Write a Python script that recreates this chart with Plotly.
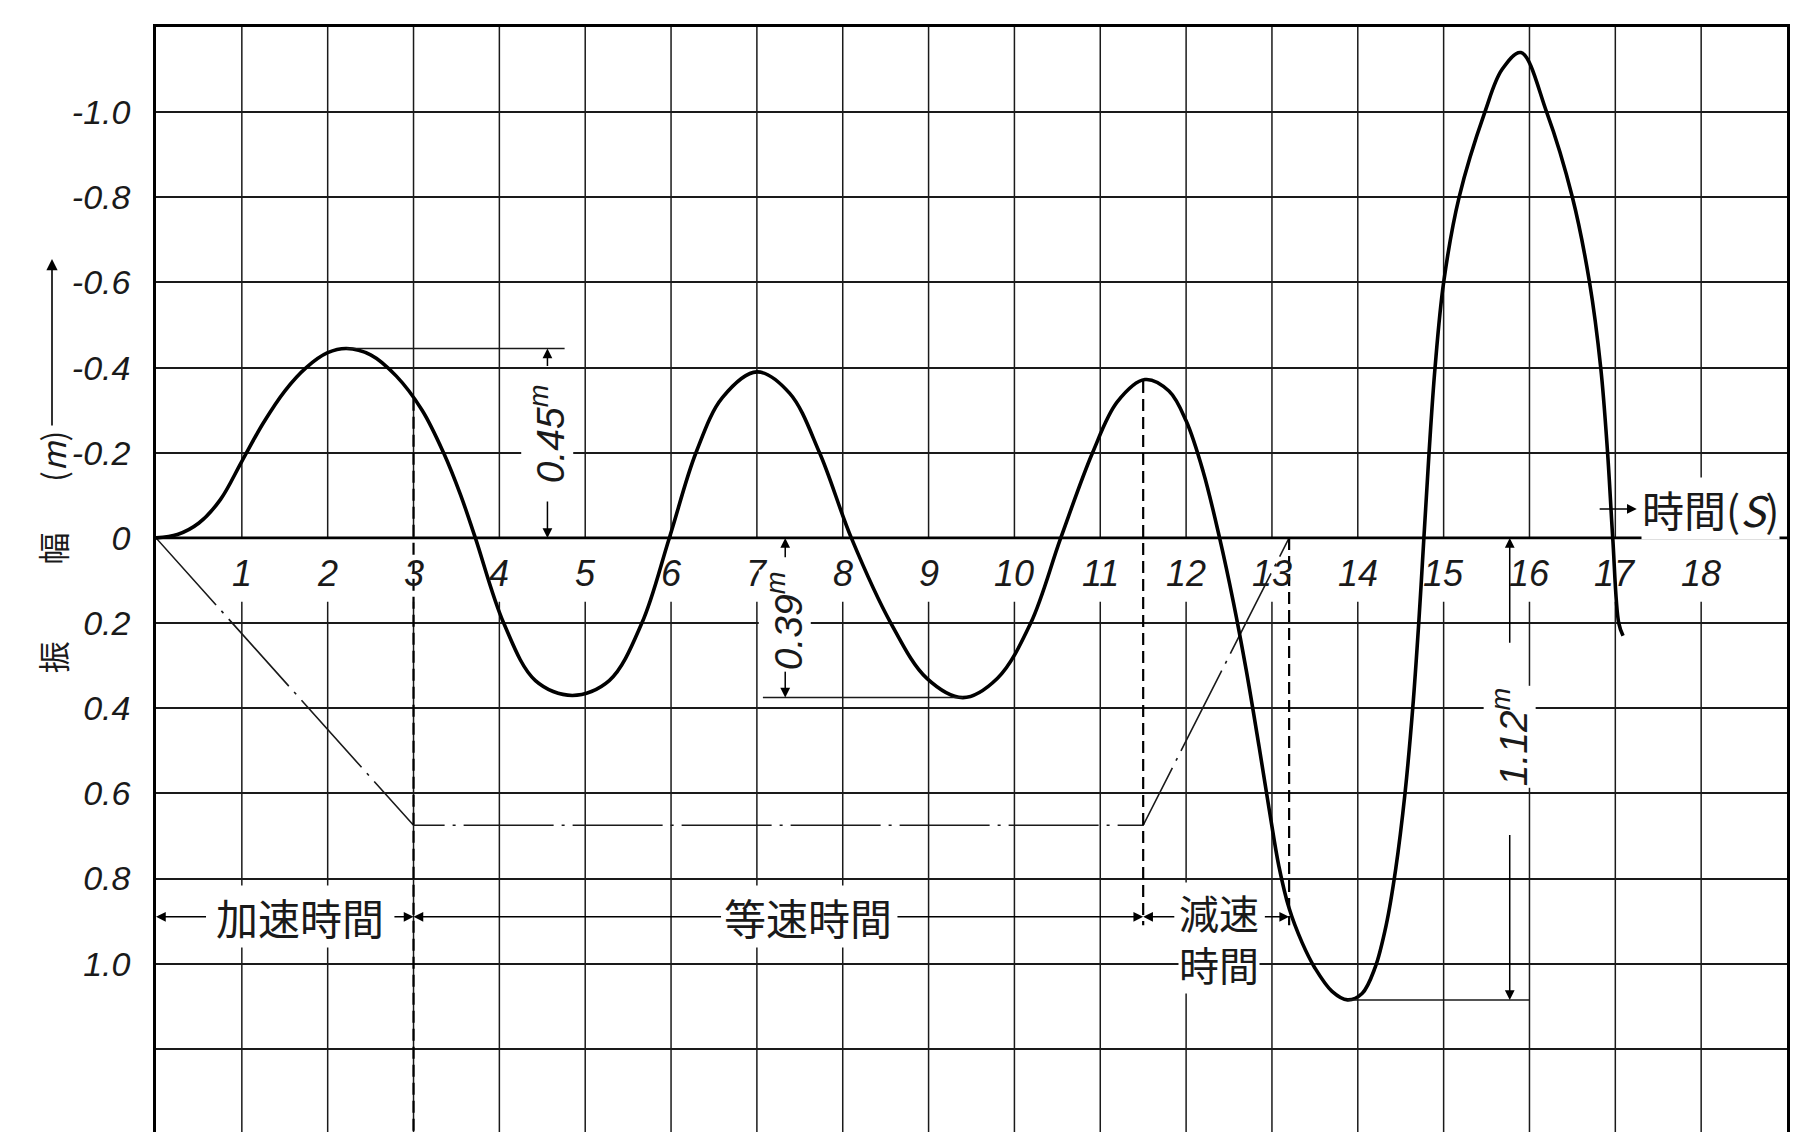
import numpy as np
import plotly.graph_objects as go

# ---------------- data ----------------
t_curve = [0.0, 0.25, 0.5, 0.75, 1.0, 1.25, 1.5, 1.75, 2.0, 2.22, 2.5, 2.8, 3.1, 3.35, 3.55, 3.72,
           4.05, 4.42, 4.85, 5.28, 5.66, 5.98, 6.29, 6.6, 7.0, 7.38, 7.73, 8.1, 8.56, 8.98, 9.4,
           9.8, 10.19, 10.54, 10.91, 11.2, 11.52, 11.8, 12.0, 12.2, 12.39, 12.55, 12.7, 12.85,
           12.97, 13.08, 13.2, 13.35, 13.5, 13.7, 13.88, 14.05, 14.2, 14.33, 14.44, 14.55, 14.64,
           14.71, 14.77, 14.83, 14.9, 15.0, 15.18, 15.48, 15.68, 15.9, 16.2, 16.5, 16.7,
           16.83, 16.91, 16.97, 17.04, 17.09]
amp_curve = [0.0, -0.008, -0.035, -0.09, -0.18, -0.27, -0.345, -0.4, -0.435, -0.445, -0.43, -0.38,
             -0.3, -0.2, -0.1, 0.0, 0.2, 0.335, 0.37, 0.335, 0.2, 0.0, -0.2, -0.33, -0.39,
             -0.34, -0.2, 0.0, 0.2, 0.33, 0.375, 0.33, 0.2, 0.0, -0.2, -0.32, -0.372, -0.345,
             -0.275, -0.155, 0.0, 0.15, 0.31, 0.49, 0.64, 0.77, 0.87, 0.95, 1.01, 1.065, 1.085,
             1.07, 1.01, 0.91, 0.78, 0.6, 0.4, 0.2, 0.0, -0.2, -0.4, -0.6, -0.8, -1.0, -1.1,
             -1.14, -1.0, -0.8, -0.6, -0.4, -0.2, 0.0, 0.2, 0.23]

# speed profile (accelerate / constant / decelerate)
phase_t = [0.0, 3.0, 11.5, 13.2]
phase_level = [0.0, 0.675, 0.675, 0.0]

x_ticks = list(range(1, 19))
x_tick_text = [str(v) for v in x_ticks]
y_grid = [round(-1.2 + 0.2 * i, 1) for i in range(14)]
y_tick_text = ["", "-1.0", "-0.8", "-0.6", "-0.4", "-0.2", "0", "0.2", "0.4", "0.6", "0.8", "1.0", "", ""]

# amplitude dimension marks
dim_peak_t = [2.22, 9.4, 13.88]
dim_peak_v = [-0.445, 0.375, 1.085]
dim_line_end = [4.76, 7.07, 16.0]
dim_x = [4.56, 7.33, 15.77]
dim_text = ["0.45<sup>m</sup>", "0.39<sup>m</sup>", "1.12<sup>m</sup>"]

seg_labels = ["加速時間", "等速時間", "減速<br>時間"]

# ---------------- layout constants ----------------
X_MIN, X_MAX = 0, 19
Y_TOP, Y_BOT = -1.2, 1.4
SEG_Y = 0.89
SEG_LABEL_X = [1.68, 7.6, 12.38]
SEG_LABEL_Y = [SEG_Y, SEG_Y, SEG_Y + 0.05]
DIM_LABEL_FRAC = [0.55, 0.52, 0.43]     # label centre, as fraction of the span
DIM_NEAR_TAIL = [0.2, 0.13, 0.23]       # tail of arrow pointing at zero line
DIM_FAR_TAIL = [0.9, 0.77, 0.64]        # tail of arrow pointing at the extreme

INK = "#1a1a1a"
NUM_FONT = "Liberation Sans, Arial, sans-serif"
CJK_FONT = "Noto Sans CJK JP, Noto Sans CJK SC, sans-serif"

fig = go.Figure()

# speed profile line (thin dash-dot)
fig.add_trace(go.Scatter(x=phase_t, y=phase_level, mode="lines",
                         line=dict(color=INK, width=1.6, dash="90px,8px,3px,8px"),
                         hoverinfo="skip", showlegend=False))

# amplitude curve
fig.add_trace(go.Scatter(x=t_curve, y=amp_curve, mode="lines",
                         line=dict(color="black", width=3.6, shape="spline", smoothing=1.0),
                         showlegend=False))

shapes = []
# vertical grid lines, broken where the tick labels sit
for t in x_ticks:
    shapes.append(dict(type="line", xref="x", yref="y", x0=t, x1=t, y0=Y_TOP, y1=0,
                       line=dict(color=INK, width=1.5), layer="below"))
    shapes.append(dict(type="line", xref="x", yref="y", x0=t, x1=t, y0=0.15, y1=Y_BOT,
                       line=dict(color=INK, width=1.5), layer="below"))
# zero line
shapes.append(dict(type="line", xref="x", yref="y", x0=X_MIN, x1=X_MAX, y0=0, y1=0,
                   line=dict(color="black", width=2.6)))

# dashed phase boundaries
acc_end, con_end, dec_end = phase_t[1], phase_t[2], phase_t[3]
shapes.append(dict(type="line", x0=acc_end, x1=acc_end,
                   y0=float(np.interp(acc_end, t_curve, amp_curve)), y1=Y_BOT,
                   line=dict(color="black", width=2.2, dash="12px,6px")))
shapes.append(dict(type="line", x0=con_end, x1=con_end,
                   y0=float(np.interp(con_end, t_curve, amp_curve)), y1=SEG_Y + 0.02,
                   line=dict(color="black", width=2.2, dash="12px,6px")))
shapes.append(dict(type="line", x0=dec_end, x1=dec_end, y0=0, y1=SEG_Y + 0.02,
                   line=dict(color="black", width=2.2, dash="12px,6px")))

# dimension reference lines
for pt, pv, pe in zip(dim_peak_t, dim_peak_v, dim_line_end):
    shapes.append(dict(type="line", x0=pt, x1=pe, y0=pv, y1=pv,
                       line=dict(color=INK, width=1.5)))

ann = []


def arrow(hx, hy, tx, ty, size=1.3):
    ann.append(dict(x=hx, y=hy, ax=tx, ay=ty, xref="x", yref="y", axref="x", ayref="y",
                    text="", showarrow=True, arrowhead=2, arrowsize=size, arrowwidth=1.5,
                    arrowcolor="black"))


# x tick labels inside the plot
for t, s in zip(x_ticks, x_tick_text):
    ann.append(dict(x=t, y=0.084, xref="x", yref="y", text=s, showarrow=False,
                    xanchor="center", yanchor="middle",
                    font=dict(family=NUM_FONT, size=36, color=INK, style="italic")))

# dimension arrows and labels
for i, (x, pv, s) in enumerate(zip(dim_x, dim_peak_v, dim_text)):
    arrow(x, 0, x, pv * DIM_NEAR_TAIL[i])
    arrow(x, pv, x, pv * DIM_FAR_TAIL[i])
    ann.append(dict(x=x, y=pv * DIM_LABEL_FRAC[i], xref="x", yref="y", text=s, showarrow=False,
                    textangle=-90, bgcolor="white", xanchor="center", yanchor="middle",
                    font=dict(family=NUM_FONT, size=39, color=INK, style="italic")))

# phase segment arrows and labels
arrow(0, SEG_Y, 0.6, SEG_Y)
arrow(acc_end, SEG_Y, 2.76, SEG_Y)
arrow(acc_end, SEG_Y, 6.6, SEG_Y)
arrow(con_end, SEG_Y, 8.62, SEG_Y)
arrow(con_end, SEG_Y, 11.88, SEG_Y)
arrow(dec_end, SEG_Y, 12.9, SEG_Y)
for s, x, y in zip(seg_labels, SEG_LABEL_X, SEG_LABEL_Y):
    ann.append(dict(x=x, y=y, xref="x", yref="y", text=s,
                    showarrow=False, xanchor="center", yanchor="middle", bgcolor="white",
                    borderpad=0,
                    font=dict(family=CJK_FONT, size=40 if "<br>" in s else 42, color=INK)))

# time axis label
arrow(17.25, -0.068, 16.8, -0.068)
ann.append(dict(x=17.3, y=-0.068, xref="x", yref="y", text="時間(<i>S</i>)", showarrow=False,
                xanchor="left", yanchor="middle", bgcolor="white", borderpad=0,
                font=dict(family=CJK_FONT, size=42, color=INK)))

# amplitude axis title (vertical)
for s, yv in [("振", 0.28), ("幅", 0.025), ("(<i>m</i>)", -0.19)]:
    ann.append(dict(x=0, y=yv, xref="paper", yref="y", xshift=-104, text=s, showarrow=False,
                    textangle=-90, xanchor="center", yanchor="middle",
                    font=dict(family=CJK_FONT, size=32, color=INK)))
ann.append(dict(x=0, y=-0.655, xref="paper", yref="y", xshift=-104, ax=0, ay=168,
                axref="pixel", ayref="pixel", text="", showarrow=True, arrowhead=2,
                arrowsize=1.4, arrowwidth=1.6, arrowcolor="black"))

fig.update_layout(
    width=1800, height=1132,
    margin=dict(l=148, r=21, t=19, b=6),
    paper_bgcolor="white", plot_bgcolor="white",
    shapes=shapes, annotations=ann, showlegend=False,
    xaxis=dict(range=[X_MIN, X_MAX], showgrid=False, zeroline=False, showticklabels=False,
               showline=True, mirror=True, linecolor="black", linewidth=2.5, ticks=""),
    yaxis=dict(range=[Y_BOT, Y_TOP], tickvals=y_grid, ticktext=y_tick_text,
               showgrid=True, gridcolor=INK, gridwidth=1.5, zeroline=False,
               showline=True, mirror=True, linecolor="black", linewidth=2.5, ticks="",
               ticklabelstandoff=16,
               tickfont=dict(family=NUM_FONT, size=34, color=INK, style="italic")),
)

fig.write_html("out.html")
